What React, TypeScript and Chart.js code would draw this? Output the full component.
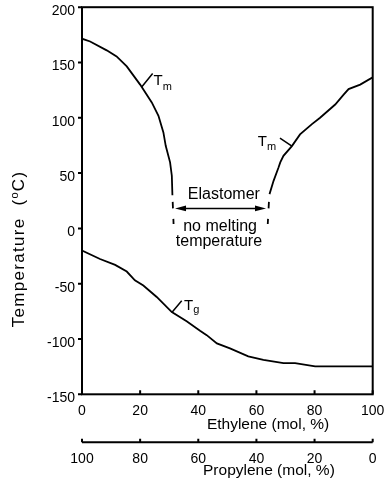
import React, { useEffect, useRef } from "react";
import { Chart, registerables } from "chart.js";

Chart.register(...registerables);

// ---- axis ticks ----
const ethyleneTicks = [0, 20, 40, 60, 80, 100];
const propyleneTicks = [100, 80, 60, 40, 20, 0];
const tempTicks = [-150, -100, -50, 0, 50, 100, 150, 200];

// ---- Tm (propylene-rich side) ----
const tmLowE = [0, 2.8, 8.5, 11.9, 15.4, 20, 24, 26.3, 28, 28.8, 30.3, 30.9, 31.1];
const tmLowT = [171.5, 169, 161, 155.5, 146.5, 130, 113.9, 101.8, 86.8, 74.7, 59.7, 47.6, 30];
const tmLowDashE = [31.2, 31.5];
const tmLowDashT = [24, 4];

// ---- Tm (ethylene-rich side) ----
const tmHighE = [64.5, 65.9, 67.6, 68.2, 69.3, 72.2, 75, 79.1, 81.9, 87.1, 90, 91.7, 95.7, 100];
const tmHighT = [31, 43, 55, 59.7, 65.6, 74.4, 85, 94.3, 100, 112, 121, 126, 130, 136.6];
const tmHighDashE = [64.3, 63.9];
const tmHighDashT = [24, 4];

// ---- Tg ----
const tgE = [0, 6.2, 11.4, 15.4, 18.2, 21.1, 25.7, 30.9, 36, 40.6, 42.9, 46.4, 50.9, 57.2, 62.4, 69.3, 73.3, 80.2, 100];
const tgT = [-20, -27.7, -33, -39, -47, -51.7, -62, -75.7, -84, -92.5, -96.5, -104, -108.5, -115.7, -118.8, -121.8, -121.8, -124.8, -124.8];

const FONT = "'Liberation Sans', Arial, Helvetica, sans-serif";

const pts = (xs: number[], ys: number[]) => xs.map((x, i) => ({ x, y: ys[i] }));

const annotPlugin = {
  id: "annot",
  afterDraw(chart: any) {
    const ctx = chart.ctx as CanvasRenderingContext2D;
    const xs = chart.scales.x;
    const x2 = chart.scales.x2;
    const ys = chart.scales.y;
    const { left, right, top, bottom } = chart.chartArea;
    const px = (v: number) => xs.getPixelForValue(v);
    const py = (v: number) => ys.getPixelForValue(v);
    ctx.save();
    ctx.strokeStyle = "#000";
    ctx.fillStyle = "#000";
    // frame
    ctx.lineWidth = 2;
    ctx.strokeRect(left, top, right - left, bottom - top);
    // y ticks (outside)
    ctx.beginPath();
    tempTicks.forEach((t) => {
      const y = py(t);
      ctx.moveTo(left - 4, y);
      ctx.lineTo(left, y);
    });
    // x ticks (inside)
    ethyleneTicks.forEach((e) => {
      const x = px(e);
      ctx.moveTo(x, bottom);
      ctx.lineTo(x, bottom - 4);
    });
    ctx.stroke();
    // propylene axis
    const ay = x2.top;
    ctx.beginPath();
    ctx.moveTo(x2.getPixelForValue(100), ay);
    ctx.lineTo(x2.getPixelForValue(0), ay);
    propyleneTicks.forEach((p) => {
      const x = x2.getPixelForValue(p);
      ctx.moveTo(x, ay);
      ctx.lineTo(x, ay - 3.5);
    });
    ctx.stroke();

    // axis titles
    ctx.textBaseline = "alphabetic";
    ctx.textAlign = "center";
    ctx.font = `15.5px ${FONT}`;
    ctx.fillText("Ethylene (mol, %)", px(64), xs.bottom - 13);
    ctx.fillText("Propylene (mol, %)", px(64.3), x2.bottom - 8);

    // y title with superscript o
    ctx.save();
    ctx.translate(24, 249);
    ctx.rotate(-Math.PI / 2);
    ctx.textAlign = "left";
    const big = `17px ${FONT}`;
    const small = `11px ${FONT}`;
    (ctx as any).letterSpacing = "1.3px";
    ctx.font = big;
    const p1 = "Temperature  (";
    const p3 = "C)";
    const w1 = ctx.measureText(p1).width;
    const w3 = ctx.measureText(p3).width;
    ctx.font = small;
    const w2 = ctx.measureText("o").width;
    const total = w1 + w2 + w3;
    let cx = -total / 2;
    ctx.font = big;
    ctx.fillText(p1, cx, 0);
    cx += w1;
    ctx.font = small;
    ctx.fillText("o", cx, -6);
    cx += w2;
    ctx.font = big;
    ctx.fillText(p3, cx, 0);
    (ctx as any).letterSpacing = "0px";
    ctx.restore();

    // leader lines
    ctx.lineWidth = 1.5;
    ctx.beginPath();
    ctx.moveTo(px(20.6), py(128));
    ctx.lineTo(px(24.3), py(140));
    ctx.moveTo(px(72.2), py(74.4));
    ctx.lineTo(px(68.1), py(81.6));
    ctx.moveTo(px(30.9), py(-76));
    ctx.lineTo(px(34.3), py(-65.5));
    ctx.stroke();

    // subscripted labels
    const subLabel = (e: number, t: number, main: string, sub: string, drop: number) => {
      const x = px(e);
      const y = py(t);
      ctx.textAlign = "left";
      ctx.font = `15px ${FONT}`;
      ctx.fillText(main, x, y);
      const w = ctx.measureText(main).width;
      ctx.font = `11px ${FONT}`;
      ctx.fillText(sub, x + w, y + drop);
    };
    subLabel(24.6, 129.7, "T", "m", 5.5);
    subLabel(60.5, 74.7, "T", "m", 4.5);
    subLabel(35.1, -73.4, "T", "g", 3.5);

    // Elastomer arrow
    const ax1 = px(32.0);
    const ax2 = px(63.3);
    const arY = py(18.1);
    ctx.beginPath();
    ctx.moveTo(ax1 + 6, arY);
    ctx.lineTo(ax2 - 6, arY);
    ctx.stroke();
    ctx.beginPath();
    ctx.moveTo(ax1, arY);
    ctx.lineTo(ax1 + 11, arY - 2.8);
    ctx.lineTo(ax1 + 11, arY + 2.8);
    ctx.closePath();
    ctx.moveTo(ax2, arY);
    ctx.lineTo(ax2 - 11, arY - 2.8);
    ctx.lineTo(ax2 - 11, arY + 2.8);
    ctx.closePath();
    ctx.fill();

    ctx.textAlign = "center";
    ctx.font = `16px ${FONT}`;
    ctx.fillText("Elastomer", px(48.8), py(26.9));
    ctx.fillText("no melting", px(47.5), py(-2.4));
    ctx.fillText("temperature", px(47.1), py(-16));
    ctx.restore();
  },
};

export default function App() {
  const ref = useRef<HTMLCanvasElement | null>(null);
  useEffect(() => {
    if (!ref.current) return;
    const line = {
      showLine: true,
      pointRadius: 0,
      borderColor: "#000",
      backgroundColor: "#000",
      borderWidth: 1.8,
      tension: 0,
      fill: false,
    };
    const chart = new Chart(ref.current, {
      type: "scatter",
      data: {
        datasets: [
          { ...line, label: "Tm low", data: pts(tmLowE, tmLowT) },
          { ...line, label: "Tm low dashed", data: pts(tmLowDashE, tmLowDashT), borderDash: [6.5, 10.5] },
          { ...line, label: "Tm high", data: pts(tmHighE, tmHighT) },
          { ...line, label: "Tm high dashed", data: pts(tmHighDashE, tmHighDashT), borderDash: [6.5, 10.5] },
          { ...line, label: "Tg", data: pts(tgE, tgT) },
        ] as any,
      },
      options: {
        animation: false,
        responsive: true,
        maintainAspectRatio: false,
        devicePixelRatio: 1,
        layout: { padding: { top: 7.2, right: 14.3, left: 0, bottom: 0 } },
        plugins: { legend: { display: false }, tooltip: { enabled: false } },
        scales: {
          x: {
            type: "linear",
            position: "bottom",
            weight: 0,
            min: 0,
            max: 100,
            afterBuildTicks: (s: any) => {
              s.ticks = ethyleneTicks.map((v) => ({ value: v }));
            },
            afterFit: (s: any) => {
              s.height = 48;
              s.paddingLeft = 0;
              s.paddingRight = 0;
            },
            grid: { display: false, drawTicks: false },
            border: { display: false },
            ticks: { color: "#000", font: { family: FONT, size: 14 }, padding: 8, maxRotation: 0, autoSkip: false },
          },
          x2: {
            type: "linear",
            position: "bottom",
            weight: 1,
            min: 0,
            max: 100,
            reverse: true,
            afterBuildTicks: (s: any) => {
              s.ticks = propyleneTicks.map((v) => ({ value: v }));
            },
            afterFit: (s: any) => {
              s.height = 40.7;
              s.paddingLeft = 0;
              s.paddingRight = 0;
            },
            grid: { display: false, drawTicks: false },
            border: { display: false },
            ticks: { color: "#000", font: { family: FONT, size: 14 }, padding: 8, maxRotation: 0, autoSkip: false },
          },
          y: {
            type: "linear",
            position: "left",
            min: -150,
            max: 200,
            afterBuildTicks: (s: any) => {
              s.ticks = tempTicks.map((v) => ({ value: v }));
            },
            afterFit: (s: any) => {
              s.width = 82;
              s.paddingTop = 0;
              s.paddingBottom = 0;
            },
            grid: { display: false, drawTicks: false },
            border: { display: false },
            ticks: { color: "#000", font: { family: FONT, size: 14 }, padding: 7, labelOffset: 4, autoSkip: false },
          },
        },
      } as any,
      plugins: [annotPlugin],
    });
    return () => chart.destroy();
  }, []);
  return (
    <div style={{ position: "absolute", left: 0, top: 0, width: 387, height: 483, background: "#fff" }}>
      <canvas ref={ref} />
    </div>
  );
}
